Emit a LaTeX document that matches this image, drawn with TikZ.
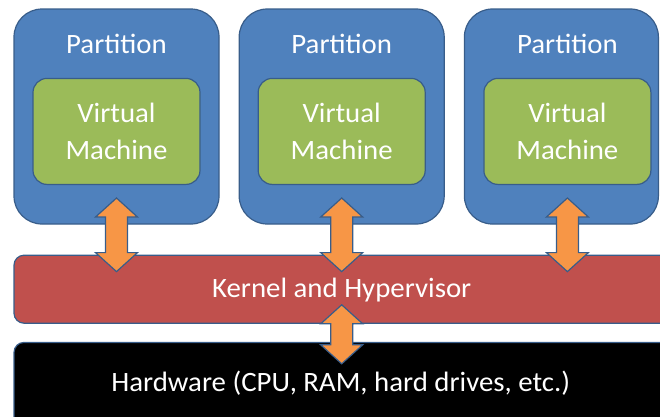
\documentclass[tikz,border=0pt]{standalone}
\usepackage{fontspec}
\setmainfont{Carlito}[FakeStretch=1.03]
\usepackage{xcolor}
\usetikzlibrary{positioning,calc}

\definecolor{partblue}{HTML}{4F81BD}
\definecolor{edgeblue}{HTML}{385D8A}
\definecolor{vmgreen}{HTML}{9BBB59}
\definecolor{kernred}{HTML}{C0504D}
\definecolor{arrorange}{HTML}{F79646}

\tikzset{
  partition/.style={draw=edgeblue,line width=1.2pt,fill=partblue,rounded corners=28pt,
    minimum width=205pt,minimum height=215pt,inner sep=0pt},
  vm/.style={draw=edgeblue,line width=1.2pt,fill=vmgreen,rounded corners=14pt,
    minimum width=167pt,minimum height=106pt,inner sep=0pt,align=center,
    text=white,font=\fontsize{28}{37}\selectfont},
  layer/.style={draw=edgeblue,line width=1.2pt,rounded corners=10pt,
    minimum width=666pt,inner sep=0pt},
  txt/.style={text=white,font=\fontsize{28}{37}\selectfont},
  duplex/.style={draw=edgeblue,line width=1.2pt,fill=arrorange,line join=miter}
}

% two-headed block arrow from top tip #1 down to bottom tip #2
\newcommand{\dblarrow}[2]{%
  \draw[duplex] let \p1=(#1), \p2=(#2) in
    (\x1,\y1) -- (\x1+21pt,\y1-19pt) -- (\x1+11pt,\y1-19pt)
    -- (\x1+11pt,\y2+19pt) -- (\x1+21pt,\y2+19pt) -- (\x1,\y2)
    -- (\x1-21pt,\y2+19pt) -- (\x1-11pt,\y2+19pt)
    -- (\x1-11pt,\y1-19pt) -- (\x1-21pt,\y1-19pt) -- cycle;}

\begin{document}
\begin{tikzpicture}[x=1pt,y=1pt]
\clip (0,0) rectangle (660,-416);

\node[partition] (p1) at (116.5,-116.5) {};
\node[partition,right=19pt of p1] (p2) {};
\node[partition,minimum width=194pt,right=19pt of p2] (p3) {};

\node[vm] (vm1) at ($(p1.north)+(0,-123)$) {Virtual\\Machine};
\node[vm] (vm2) at ($(p2.north)+(0,-123)$) {Virtual\\Machine};
\node[vm] (vm3) at ($(p3.north)+(6,-123)$) {Virtual\\Machine};

\foreach \i in {1,2,3}
  \node[txt] (title\i) at ($(vm\i.north)+(0,34)$) {Partition};

\node[layer,fill=kernred,minimum height=68pt,anchor=north west] (kernel)
  at ($(p1.south west)+(0,-30)$) {};
\node[layer,fill=black,minimum height=100pt,below=18pt of kernel] (hw) {};

\node[txt] (ktext) at ($(kernel.center -| vm2.center)+(0,-1)$) {Kernel and Hypervisor};
\node[txt] (hwtext) at ($(hw.north -| vm2.center)+(-1,-41)$)
  {Hardware (CPU, RAM, hard drives, etc.)};

\foreach \i in {1,2,3} {
  \coordinate (up\i) at ($(vm\i.south)+(0,-13)$);
  \coordinate (dn\i) at ($(vm\i.south |- kernel.north)+(0,-17)$);
  \dblarrow{up\i}{dn\i}
}
\coordinate (up4) at ($(vm2.south |- kernel.south)+(0,19)$);
\coordinate (dn4) at ($(vm2.south |- hw.north)+(0,-22)$);
\dblarrow{up4}{dn4}
\end{tikzpicture}
\end{document}
